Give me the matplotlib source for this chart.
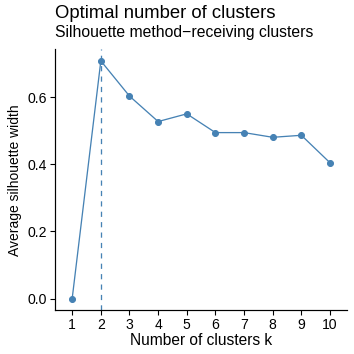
import matplotlib
matplotlib.use("Agg")
import matplotlib.pyplot as plt

k_values = [1, 2, 3, 4, 5, 6, 7, 8, 9, 10]
silhouette = [0.0, 0.709, 0.604, 0.528, 0.551, 0.495, 0.495, 0.481, 0.487, 0.405]
optimal_k = 2
y_ticks = [0.0, 0.2, 0.4, 0.6]
y_ticklabels = ["0.0", "0.2", "0.4", "0.6"]

plt.rcParams['font.family'] = ['Liberation Sans', 'DejaVu Sans']
color = "#4682B4"

fig = plt.figure(figsize=(354/72, 354/72), dpi=72)
ax = fig.add_axes([55/354, 1-310.4/354, (347.2-55)/354, (310.4-49)/354])

ax.plot(k_values, silhouette, color=color, linewidth=1.3, marker='o', markersize=6)
ax.axvline(optimal_k, color=color, linestyle=(0, (4, 4)), linewidth=1.3)

ax.set_xlim(0.4, 10.6)
ymax = max(silhouette)
pad = 0.05 * ymax
ax.set_ylim(-pad, ymax + pad)
ax.set_xticks(k_values)
ax.set_xticklabels([str(k) for k in k_values])
ax.set_yticks(y_ticks)
ax.set_yticklabels(y_ticklabels)

for s in ["top", "right"]:
    ax.spines[s].set_visible(False)
for s in ["left", "bottom"]:
    ax.spines[s].set_linewidth(1.2)
ax.tick_params(axis='both', direction='out', length=5, width=1.1, labelsize=14, colors='black', pad=3)

ax.set_xlabel("Number of clusters k", fontsize=15.5, labelpad=1)
ax.set_ylabel("Average silhouette width", fontsize=13.9, labelpad=6)

fig.text(55/354, 1-17.5/354, "Optimal number of clusters", fontsize=18.5, ha='left', va='baseline')
fig.text(55/354, 1-36.5/354, "Silhouette method\u2212receiving clusters", fontsize=15.8, ha='left', va='baseline')

fig.savefig("out.png", dpi=72)
